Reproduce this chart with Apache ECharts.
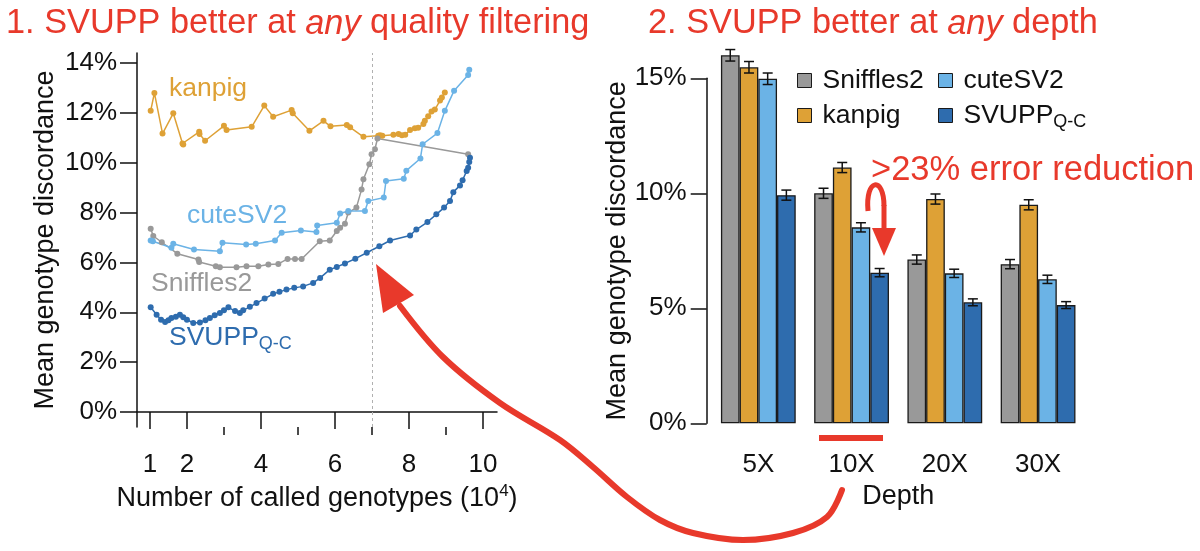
<!DOCTYPE html>
<html>
<head>
<meta charset="utf-8">
<script src="https://cdn.jsdelivr.net/npm/echarts@6.0.0/dist/echarts.min.js"></script>
<style>
  html, body { margin: 0; background: #fff; }
  #main { width: 1200px; height: 551px; }
</style>
</head>
<body>
<div id="main"></div>
<script>
// ---- left panel: discordance vs number of called genotypes (10^4) ----
var kanpigPts = [[1.02,12.08],[1.12,12.8],[1.34,11.17],[1.63,11.98],[1.88,10.77],[1.9,10.73],[2.33,11.24],[2.34,11.15],[2.49,10.88],
  [3.0,11.48],[3.07,11.31],[3.75,11.44],[4.09,12.29],[4.33,11.84],[4.83,12.11],[4.86,11.98],[5.31,11.28],[5.69,11.68],[5.88,11.46],
  [6.32,11.51],[6.41,11.42],[6.77,11.04],[7.17,11.08],[7.22,11.1],[7.28,11.08],[7.58,11.12],[7.72,11.15],[7.81,11.1],[7.9,11.12],
  [8.03,11.31],[8.16,11.38],[8.25,11.4],[8.39,11.55],[8.43,11.68],[8.52,11.86],[8.61,12.05],[8.7,12.13],[8.84,12.49],[8.89,12.62],[8.97,12.82]];
var sniffles2Pts = [[1.02,7.35],[1.09,7.06],[1.32,6.81],[1.74,6.35],[2.31,6.12],[2.33,6.02],[2.78,5.85],[2.89,5.81],[3.34,5.81],[3.61,5.85],
  [3.93,5.85],[4.2,5.92],[4.47,5.94],[4.72,6.14],[4.92,6.14],[5.1,6.14],[5.59,6.85],[5.86,6.88],[6.05,7.26],[6.14,7.39],[6.27,7.55],
  [6.36,8.0],[6.58,8.2],[6.72,8.93],[6.77,9.34],[6.93,9.94],[6.99,10.34],[7.08,10.54],[7.15,10.97],[9.6,10.34]];
var cutesv2Pts = [[1.02,6.88],[1.08,6.85],[1.58,6.59],[1.63,6.75],[2.19,6.52],[2.89,6.45],[2.96,6.79],[3.6,6.72],[3.86,6.75],[4.38,6.88],
  [4.56,7.19],[5.08,7.28],[5.5,7.22],[5.52,7.48],[6.05,7.59],[6.14,7.96],[6.36,8.06],[6.81,8.06],[6.9,8.46],[7.32,8.6],[7.38,9.27],
  [7.86,9.36],[7.93,9.68],[8.31,10.17],[8.37,10.74],[8.77,11.19],[8.97,12.08],[9.22,12.89],[9.6,13.52],[9.63,13.73]];
var svuppPts = [[1.02,4.2],[1.18,3.9],[1.3,3.7],[1.41,3.61],[1.5,3.68],[1.58,3.77],[1.7,3.82],[1.81,3.9],[1.9,3.8],[2.0,3.7],[2.17,3.57],
  [2.35,3.59],[2.5,3.68],[2.62,3.77],[2.75,3.88],[2.89,3.97],[3.0,4.08],[3.12,4.2],[3.3,4.05],[3.43,3.97],[3.52,4.08],[3.7,4.22],
  [3.88,4.37],[4.1,4.55],[4.33,4.74],[4.5,4.82],[4.69,4.91],[4.9,4.98],[5.14,5.04],[5.41,5.18],[5.6,5.38],[5.86,5.71],[6.05,5.82],
  [6.27,5.96],[6.55,6.15],[6.86,6.39],[7.2,6.65],[7.49,6.88],[8.03,7.08],[8.2,7.32],[8.5,7.62],[8.74,7.93],[8.95,8.2],[9.11,8.46],
  [9.2,8.82],[9.38,9.09],[9.45,9.3],[9.56,9.67],[9.6,9.8],[9.63,10.03],[9.65,10.2]];
var leftYTicks = [0, 2, 4, 6, 8, 10, 12, 14];
var leftXMajor = [1, 2, 4, 6, 8, 10];
var leftXMinor = [3, 5, 7, 9];
var cutoffX = 7;

// ---- right panel: discordance by depth ----
var depths = ['5X', '10X', '20X', '30X'];
var tools = ['Sniffles2', 'kanpig', 'cuteSV2', 'SVUPP'];
var barSniffles2 = [16.0, 10.0, 7.12, 6.92];
var barKanpig = [15.48, 11.12, 9.75, 9.5];
var barCutesv2 = [14.98, 8.52, 6.52, 6.26];
var barSvupp = [9.92, 6.55, 5.26, 5.14];
var errSniffles2 = [0.25, 0.22, 0.2, 0.2];
var errKanpig = [0.25, 0.22, 0.22, 0.22];
var errCutesv2 = [0.25, 0.2, 0.18, 0.18];
var errSvupp = [0.22, 0.18, 0.15, 0.15];
var rightYTicks = [0, 5, 10, 15];

var RED = '#E8392B';
var COL = { Sniffles2: '#999999', kanpig: '#DEA136', cuteSV2: '#6BB3E6', SVUPP: '#2E6CAE' };
var FONT = 'Liberation Sans, Helvetica, Arial, sans-serif';
var BAR_W = 18.7;

var barValues = [barSniffles2, barKanpig, barCutesv2, barSvupp];
var barErrors = [errSniffles2, errKanpig, errCutesv2, errSvupp];

var errData = [];
barValues.forEach(function (vals, si) {
  vals.forEach(function (v, ci) { errData.push([ci, si, v, barErrors[si][ci]]); });
});

var chart = echarts.init(document.getElementById('main'));

var series = [];
tools.forEach(function (t, si) {
  series.push({
    name: t, type: 'bar', xAxisIndex: 2, yAxisIndex: 1,
    barWidth: BAR_W, barGap: '0%', clip: false,
    itemStyle: { color: COL[t], borderColor: '#1a1a1a', borderWidth: 1.3 },
    data: barValues[si]
  });
});
series.push({
  type: 'custom', xAxisIndex: 2, yAxisIndex: 1, clip: false, z: 5,
  encode: { x: 0, y: 2 },
  renderItem: function (params, api) {
    var ci = api.value(0), si = api.value(1), v = api.value(2), e = api.value(3);
    var c = api.coord([ci, v]);
    var x = c[0] + (si - 1.5) * BAR_W;
    var top = api.coord([ci, v + e])[1];
    var bot = api.coord([ci, v - e])[1];
    var st = { stroke: '#111', lineWidth: 1.5 };
    return { type: 'group', children: [
      { type: 'line', shape: { x1: x, y1: top, x2: x, y2: bot }, style: st },
      { type: 'line', shape: { x1: x - 5, y1: top, x2: x + 5, y2: top }, style: st },
      { type: 'line', shape: { x1: x - 5, y1: bot, x2: x + 5, y2: bot }, style: st }
    ] };
  },
  data: errData
});

[['kanpig', kanpigPts], ['Sniffles2', sniffles2Pts], ['cuteSV2', cutesv2Pts], ['SVUPP', svuppPts]].forEach(function (item, i) {
  var s = {
    name: item[0], type: 'line', xAxisIndex: 0, yAxisIndex: 0,
    symbol: 'circle', symbolSize: 6, showSymbol: true,
    lineStyle: { color: COL[item[0]], width: 1.5 },
    itemStyle: { color: COL[item[0]] },
    data: item[1]
  };
  if (i === 0) {
    s.markLine = {
      silent: true, symbol: 'none', label: { show: false },
      lineStyle: { color: '#b0b0b0', type: [3, 3], width: 1 },
      data: [{ xAxis: cutoffX }]
    };
  }
  series.push(s);
});

var axisTxt = { color: '#111', fontSize: 26, fontFamily: FONT };
var nameTxt = { color: '#111', fontSize: 27, fontFamily: FONT };
var axisLn = { lineStyle: { color: '#111', width: 1.5 } };
var titleTxt = { color: RED, fontSize: 34.3, fontWeight: 'normal', fontFamily: FONT,
  rich: { i: { color: RED, fontSize: 34.3, fontStyle: 'italic', fontFamily: FONT } } };

var option = {
  backgroundColor: '#fff',
  animation: false,
  textStyle: { fontFamily: FONT },
  title: [
    { text: '1. SVUPP better at {i|any} quality filtering', left: 1, top: 2, textStyle: titleTxt },
    { text: '2. SVUPP better at {i|any} depth', left: 643, top: 2, textStyle: titleTxt }
  ],
  legend: [
    { data: ['Sniffles2', 'kanpig'], orient: 'vertical', left: 797, top: 67, padding: 0,
      icon: 'rect', itemWidth: 14, itemHeight: 14, itemGap: 8,
      itemStyle: { borderColor: '#1a1a1a', borderWidth: 1 },
      textStyle: { color: '#111', fontSize: 26.5, fontFamily: FONT, padding: [0, 0, 0, 6] } },
    { data: ['cuteSV2', 'SVUPP'], orient: 'vertical', left: 938, top: 67, padding: 0,
      icon: 'rect', itemWidth: 14, itemHeight: 14, itemGap: 8,
      itemStyle: { borderColor: '#1a1a1a', borderWidth: 1 },
      formatter: function (n) { return n === 'SVUPP' ? 'SVUPP{sub|Q-C}' : n; },
      textStyle: { color: '#111', fontSize: 26.5, fontFamily: FONT, padding: [0, 0, 0, 6],
        rich: { sub: { fontSize: 18, color: '#111', fontFamily: FONT, padding: [14, 0, 0, 0] } } } }
  ],
  grid: [
    { left: 137, top: 53, width: 360, height: 374 },
    { left: 711.7, top: 78.3, width: 373, height: 345 }
  ],
  xAxis: [
    { type: 'value', gridIndex: 0, min: 0.65, max: 10.38, position: 'bottom',
      axisLine: axisLn, splitLine: { show: false },
      axisTick: { customValues: leftXMajor, length: 17, lineStyle: { color: '#111', width: 1.5 } },
      axisLabel: Object.assign({ customValues: leftXMajor, margin: 25 }, axisTxt),
      name: 'Number of called genotypes (10{sup|4})', nameLocation: 'middle', nameGap: 52,
      nameTextStyle: Object.assign({ rich: { sup: { fontSize: 17, color: '#111', fontFamily: FONT, padding: [0, 0, 14, 0] } } }, nameTxt) },
    { type: 'value', gridIndex: 0, min: 0.65, max: 10.38, position: 'bottom', offset: 0,
      axisLine: { show: false }, splitLine: { show: false }, axisLabel: { show: false },
      axisTick: { customValues: leftXMinor, length: 8, lineStyle: { color: '#111', width: 1.5 } } },
    { type: 'category', gridIndex: 1, data: depths,
      axisLine: { show: false }, axisTick: { show: false },
      axisLabel: Object.assign({ margin: 29 }, axisTxt),
      name: 'Depth', nameLocation: 'middle', nameGap: 58, nameTextStyle: nameTxt }
  ],
  yAxis: [
    { type: 'value', gridIndex: 0, min: -0.6, max: 14.4,
      axisLine: Object.assign({ show: true }, axisLn), splitLine: { show: false },
      axisTick: { show: true, customValues: leftYTicks, length: 17, lineStyle: { color: '#111', width: 1.5 } },
      axisLabel: Object.assign({ customValues: leftYTicks, margin: 20, formatter: '{value}%' }, axisTxt),
      name: 'Mean genotype discordance', nameLocation: 'middle', nameGap: 78, nameTextStyle: nameTxt },
    { type: 'value', gridIndex: 1, min: 0, max: 15, interval: 5, offset: 5,
      axisLine: Object.assign({ show: true }, axisLn), splitLine: { show: false },
      axisTick: { show: true, customValues: rightYTicks, length: 16, lineStyle: { color: '#111', width: 1.5 } },
      axisLabel: Object.assign({ customValues: rightYTicks, margin: 20, formatter: '{value}%' }, axisTxt),
      name: 'Mean genotype discordance', nameLocation: 'middle', nameGap: 75, nameTextStyle: nameTxt }
  ],
  graphic: [
    { type: 'text', left: 169, top: 75, z: 10, style: { text: 'kanpig', fill: COL.kanpig, font: '26.5px ' + FONT } },
    { type: 'text', left: 187, top: 202, z: 10, style: { text: 'cuteSV2', fill: COL.cuteSV2, font: '26.5px ' + FONT } },
    { type: 'text', left: 151, top: 270, z: 10, style: { text: 'Sniffles2', fill: COL.Sniffles2, font: '26.5px ' + FONT } },
    { type: 'text', left: 169, top: 324, z: 10, style: { text: 'SVUPP{sub|Q-C}', fill: COL.SVUPP, font: '26.5px ' + FONT,
        rich: { sub: { fontSize: 18, fill: COL.SVUPP, fontFamily: FONT, padding: [14, 0, 0, 0] } } } },
    { type: 'text', left: 871, top: 153, z: 10, style: { text: '>23% error reduction', fill: RED, font: '34.5px ' + FONT } },
    { type: 'rect', z: 10, shape: { x: 819, y: 435, width: 64, height: 6 }, style: { fill: RED } },
    { type: 'bezierCurve', z: 10,
      shape: { x1: 868, y1: 211, cpx1: 865, cpy1: 178, cpx2: 884, cpy2: 176, x2: 884, y2: 206 },
      style: { stroke: RED, lineWidth: 5, fill: null } },
    { type: 'line', z: 10, shape: { x1: 884, y1: 205, x2: 884, y2: 230 }, style: { stroke: RED, lineWidth: 5 } },
    { type: 'polygon', z: 10, shape: { points: [[872, 228], [896, 228], [884, 256]] }, style: { fill: RED } },
    { type: 'polyline', z: 20, shape: { smooth: 0.35, points: [[842, 490], [827, 517], [793, 533], [743, 540], [693, 533],
        [660, 520], [627, 497], [593, 467], [560, 440], [500, 403], [443, 357], [400, 306]] },
      style: { stroke: RED, lineWidth: 6, fill: null, lineCap: 'round' } },
    { type: 'polygon', z: 20, shape: { points: [[376, 264], [383, 313], [414, 295]] }, style: { fill: RED } }
  ],
  series: series
};

chart.setOption(option);
</script>
</body>
</html>
